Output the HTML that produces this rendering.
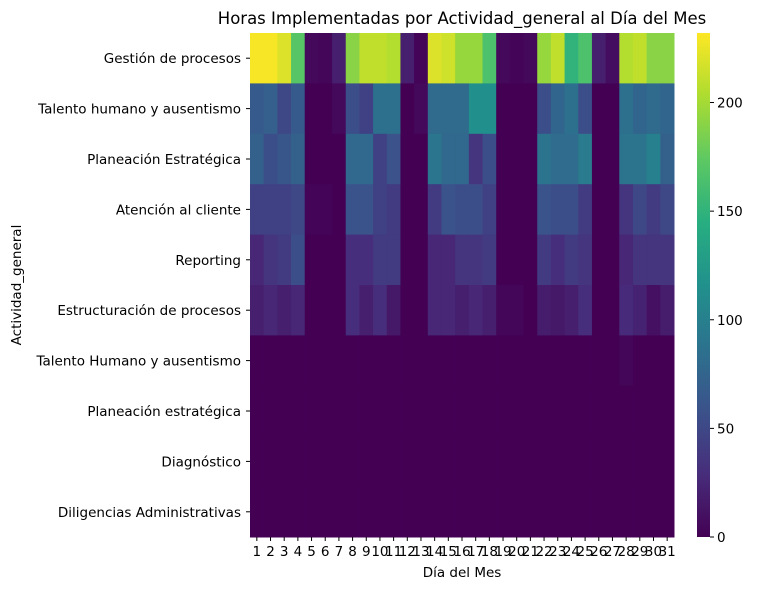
<!DOCTYPE html>
<html><head><meta charset="utf-8"><style>
body{margin:0;background:#fff;font-family:"DejaVu Sans","Liberation Sans",sans-serif;}
svg text{font-family:"DejaVu Sans","Liberation Sans",sans-serif;fill:#000;}
</style></head><body>
<svg id="chart" width="771" height="590" xmlns="http://www.w3.org/2000/svg">
<text x="462" y="24" font-size="16.5" text-anchor="middle">Horas Implementadas por Actividad_general al Día del Mes</text>
<g id="cells"></g>
<g id="yaxis"></g>
<g id="xaxis"></g>
<text x="462" y="577" font-size="13.5" text-anchor="middle">Día del Mes</text>
<text x="21" y="285" font-size="13.5" text-anchor="middle" transform="rotate(-90 21 285)">Actividad_general</text>
<defs><linearGradient id="vir" x1="0" y1="1" x2="0" y2="0">
<stop offset="0" stop-color="#440154"/><stop offset="0.125" stop-color="#472d7b"/><stop offset="0.25" stop-color="#3b528b"/><stop offset="0.375" stop-color="#2c728e"/><stop offset="0.5" stop-color="#21918c"/><stop offset="0.625" stop-color="#28ae80"/><stop offset="0.75" stop-color="#5ec962"/><stop offset="0.875" stop-color="#addc30"/><stop offset="1" stop-color="#fde725"/>
</linearGradient></defs>
<rect x="697" y="33" width="13" height="504" fill="url(#vir)"/>
<g id="cbar"></g>
</svg>
<script>
const rows = ["Gestión de procesos","Talento humano y ausentismo","Planeación Estratégica","Atención al cliente","Reporting","Estructuración de procesos","Talento Humano y ausentismo","Planeación estratégica","Diagnóstico","Diligencias Administrativas"];
const days = [1,2,3,4,5,6,7,8,9,10,11,12,13,14,15,16,17,18,19,20,21,22,23,24,25,26,27,28,29,30,31];
const gestion = [230,230,220,170,5,3,20,190,210,210,205,20,2,220,215,195,195,165,5,2,5,195,210,150,165,20,8,205,210,190,190];
const talento = [65,70,50,65,0,0,5,55,45,85,85,0,5,80,80,80,115,115,0,0,0,55,75,85,55,0,0,85,75,80,75];
const planeacion = [72,55,62,72,0,0,0,78,78,45,58,0,0,90,78,78,35,55,0,0,0,88,82,82,95,0,0,88,88,100,72];
const atencion = [45,45,45,50,2,2,0,60,60,45,40,0,0,40,60,55,55,45,0,0,0,60,55,55,40,0,0,35,50,40,50];
const reporting = [25,35,40,55,0,0,0,30,30,40,40,0,0,25,25,35,35,40,0,0,0,40,30,40,35,0,0,25,35,35,35];
const estructuracion = [20,25,20,25,0,0,0,30,20,30,15,0,0,25,25,20,25,20,3,3,0,18,15,20,30,0,0,28,22,10,18];
const talento2 = [0,0,0,0,0,0,0,0,0,0,0,0,0,0,0,0,0,0,0,0,0,0,0,0,0,0,0,3,0,0,0];
const planeacion2 = new Array(31).fill(0);
const diagnostico = new Array(31).fill(0);
const diligencias = new Array(31).fill(0);
const values = [gestion,talento,planeacion,atencion,reporting,estructuracion,talento2,planeacion2,diagnostico,diligencias];
const cbTicks = [0,50,100,150,200];
const vmax = 232;

const NS="http://www.w3.org/2000/svg";
const X0=250,X1=674,Y0=33,Y1=537;
const cw=(X1-X0)/days.length, rh=(Y1-Y0)/rows.length;
const xPos=i=>X0+i*cw, yPos=j=>Y0+j*rh;
const cbY=v=>Y1-(v/vmax)*(Y1-Y0);
const stops=["#440154","#472d7b","#3b528b","#2c728e","#21918c","#28ae80","#5ec962","#addc30","#fde725"].map(h=>[parseInt(h.slice(1,3),16),parseInt(h.slice(3,5),16),parseInt(h.slice(5,7),16)]);
function color(v){let t=Math.max(0,Math.min(1,v/vmax))*(stops.length-1);let i=Math.min(Math.floor(t),stops.length-2),f=t-i;const a=stops[i],b=stops[i+1];return `rgb(${a.map((c,k)=>Math.round(c+(b[k]-c)*f)).join(',')})`;}
function mk(tag,attrs,parent,txt){const e=document.createElementNS(NS,tag);for(const k in attrs)e.setAttribute(k,attrs[k]);if(txt!==undefined)e.textContent=txt;parent.appendChild(e);return e;}
const cells=document.getElementById('cells');
values.forEach((row,j)=>row.forEach((v,i)=>{
  const r=mk('rect',{x:xPos(i),y:yPos(j),width:cw+0.5,height:rh+0.5,fill:color(v)},cells);
  
  
}));
const ya=document.getElementById('yaxis');
rows.forEach((r,j)=>{
  const y=yPos(j)+rh/2;
  mk('line',{x1:X0-4,x2:X0,y1:y,y2:y,stroke:'#000','stroke-width':1},ya);
  const t=mk('text',{x:X0-9,y:y+5,'font-size':13.5,'text-anchor':'end'},ya,r);
  
  
});
const xa=document.getElementById('xaxis');
days.forEach((d,i)=>{
  const x=xPos(i)+cw/2;
  mk('line',{x1:x,x2:x,y1:Y1,y2:Y1+4,stroke:'#000','stroke-width':1},xa);
  const t=mk('text',{x:x,y:Y1+19,'font-size':13.5,'text-anchor':'middle'},xa,String(d));
  
  
});
const cb=document.getElementById('cbar');
cbTicks.forEach(v=>{
  const y=cbY(v);
  mk('line',{x1:710,x2:714,y1:y,y2:y,stroke:'#000','stroke-width':1},cb);
  const t=mk('text',{x:717,y:y+5,'font-size':13.5},cb,String(v));
  
  
});
</script>
</body></html>
